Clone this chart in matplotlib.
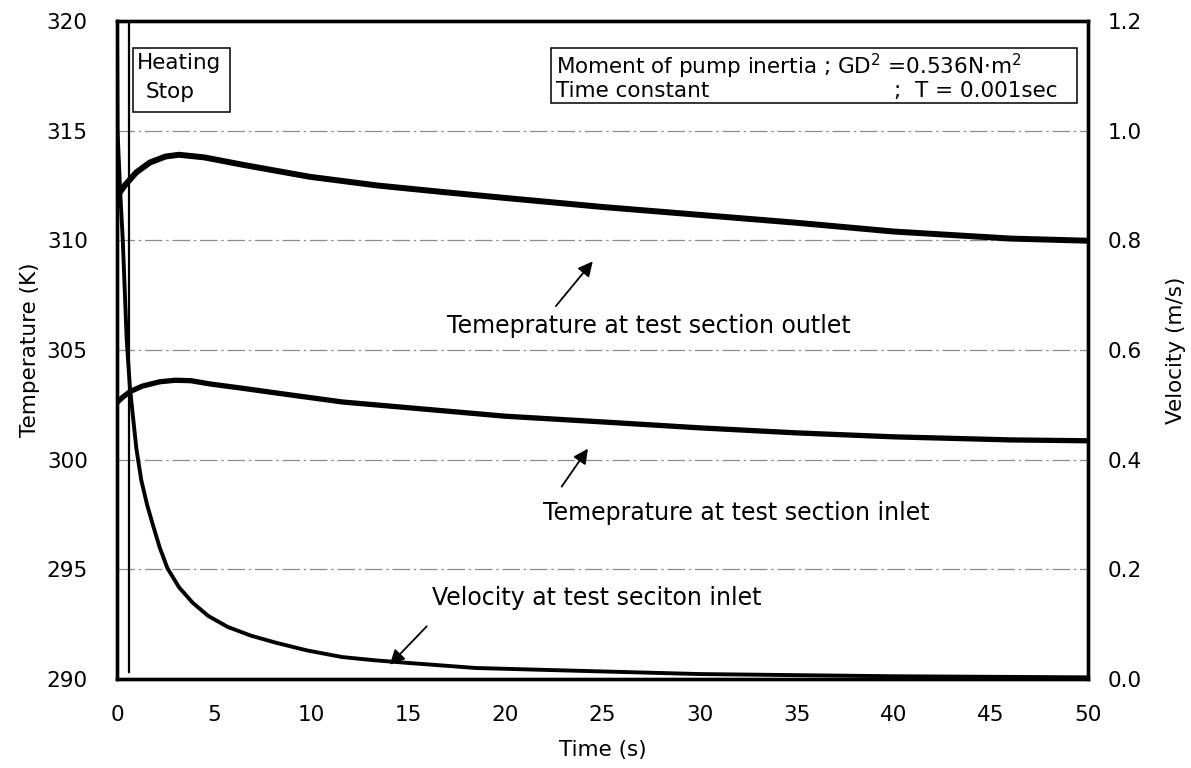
import numpy as np
import matplotlib
matplotlib.use('Agg')
import matplotlib.pyplot as plt
from matplotlib.patches import Rectangle

plt.rcParams['font.family'] = 'DejaVu Sans'
plt.rcParams['mathtext.default'] = 'regular'

# temperature at test section outlet (K)
tOut = [0.0, 0.4, 1.0, 1.7, 2.5, 3.2, 4.5, 6.5, 9.9, 13.4, 16.8, 20.0, 25.0, 30.0, 35.0, 40.0, 46.0, 50.0]
tempOut = [312.0, 312.5, 313.1, 313.55, 313.82, 313.9, 313.78, 313.44, 312.9, 312.5, 312.2, 311.93, 311.52, 311.16, 310.8, 310.4, 310.08, 309.98]

# temperature at test section inlet (K)
tIn = [0.0, 0.3, 0.67, 1.3, 2.2, 3.0, 3.8, 4.8, 6.5, 8.2, 11.6, 15.1, 20.0, 25.0, 30.0, 35.0, 40.0, 46.0, 50.0]
tempIn = [302.6, 302.85, 303.1, 303.35, 303.55, 303.62, 303.6, 303.45, 303.25, 303.04, 302.63, 302.36, 301.98, 301.72, 301.45, 301.22, 301.04, 300.9, 300.86]

# velocity at test section inlet (m/s)
tVel = [0.0, 0.03, 0.15, 0.3, 0.5, 0.67, 1.0, 1.25, 1.55, 1.85, 2.2, 2.6, 3.2, 3.9, 4.7, 5.7, 6.9, 8.2, 9.8, 11.6, 13.3, 15.1, 18.5, 23.7, 30.0, 40.0, 50.0]
vel = [1.2, 1.0, 0.9, 0.8, 0.62, 0.53, 0.42, 0.363, 0.318, 0.281, 0.24, 0.202, 0.167, 0.139, 0.115, 0.095, 0.079, 0.066, 0.052, 0.040, 0.034, 0.029, 0.02, 0.015, 0.009, 0.005, 0.003]

heatingStop = 0.6

fig = plt.figure(figsize=(11.91, 7.68), dpi=100)
ax = fig.add_axes([0.0982, 0.1159, 0.8153, 0.8568])
ax2 = ax.twinx()

ax.set_xlim(0, 50)
ax.set_ylim(290, 320)
ax2.set_ylim(0, 1.2)
ax.set_xticks(np.arange(0, 51, 5))
ax.set_yticks(np.arange(290, 321, 5))
ax2.set_yticks(np.arange(0, 1.21, 0.2))
ax2.set_yticklabels(['%.1f' % v for v in np.arange(0, 1.21, 0.2)])

for y in [295, 300, 305, 310, 315]:
    ax.axhline(y, color='0.55', lw=0.9, ls=(0, (14, 3, 2, 3)), zorder=1)

ax.plot(tOut, tempOut, color='k', lw=4.3, solid_capstyle='butt', zorder=3)
ax.plot(tIn, tempIn, color='k', lw=3.8, solid_capstyle='butt', zorder=3)
ax2.plot(tVel, vel, color='k', lw=2.8, zorder=3)
ax.plot([heatingStop, heatingStop], [320, 290.3], color='k', lw=1.6, zorder=3)

fs = 15.5
fsText = 17
fsBox = 15.5
ax.tick_params(axis='y', length=0, labelsize=fs, pad=21)
ax.tick_params(axis='x', length=0, labelsize=fs, pad=19)
ax2.tick_params(length=0, labelsize=fs, pad=14)
for a in (ax, ax2):
    for s in a.spines.values():
        s.set_linewidth(2.4)

ax.set_xlabel('Time (s)', fontsize=fs)
ax.set_ylabel('Temperature (K)', fontsize=fs)
ax2.set_ylabel('Velocity (m/s)', fontsize=fs)
ax.xaxis.set_label_coords(0.5, -0.093)
ax.yaxis.set_label_coords(-0.079, 0.5)
ax2.yaxis.set_label_coords(1.08, 0.5)

# Heating Stop box
ax.add_patch(Rectangle((0.82, 315.85), 5.0, 2.92, fill=False, ec='k', lw=1.1, zorder=4))
ax.text(1.0, 318.1, 'Heating', fontsize=fs, va='center', ha='left', zorder=5)
ax.text(1.5, 316.75, 'Stop', fontsize=fs, va='center', ha='left', zorder=5)

# parameter box
ax.add_patch(Rectangle((22.35, 316.26), 27.08, 2.51, fill=False, ec='k', lw=1.1, zorder=4))
ax.text(22.6, 317.95, 'Moment of pump inertia ; GD$^2$ =0.536N$\\cdot$m$^2$', fontsize=fsBox, va='center', ha='left', zorder=5)
ax.text(22.6, 316.8, 'Time constant', fontsize=fsBox, va='center', ha='left', zorder=5)
ax.text(40.0, 316.8, ';  T = 0.001sec', fontsize=fsBox, va='center', ha='left', zorder=5)

arrow = dict(arrowstyle='-|>', color='k', lw=1.3, mutation_scale=22, shrinkA=0, shrinkB=0)
ax.annotate('', xy=(24.5, 309.04), xytext=(22.6, 307.0), arrowprops=arrow, zorder=5)
ax.text(17.0, 306.1, 'Temeprature at test section outlet', fontsize=fsText, va='center', ha='left')

ax.annotate('', xy=(24.25, 300.5), xytext=(22.9, 298.77), arrowprops=arrow, zorder=5)
ax.text(21.95, 297.55, 'Temeprature at test section inlet', fontsize=fsText, va='center', ha='left')

ax.annotate('', xy=(14.05, 290.65), xytext=(15.95, 292.4), arrowprops=arrow, zorder=5)
ax.text(16.2, 293.7, 'Velocity at test seciton inlet', fontsize=fsText, va='center', ha='left')

plt.savefig('out.png', dpi=100)
